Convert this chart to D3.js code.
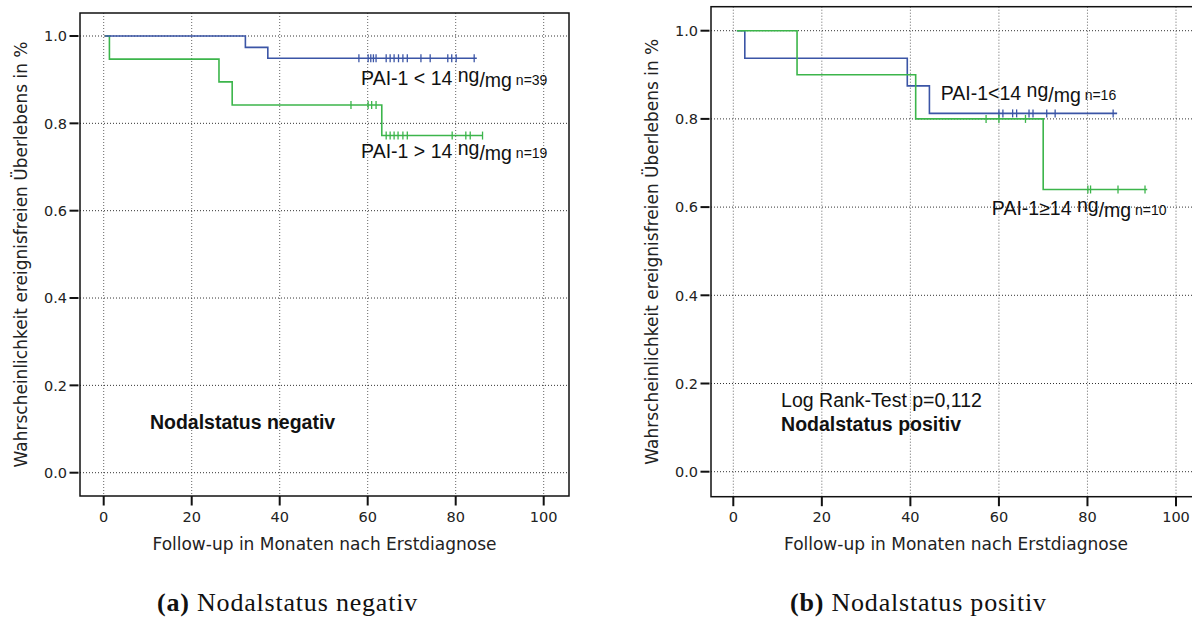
<!DOCTYPE html>
<html lang="de">
<head>
<meta charset="UTF-8">
<title>Kaplan-Meier PAI-1</title>
<script src="https://d3js.org/d3.v7.min.js"></script>
<style>
  body { margin: 0; background: #fff; }
  svg { display: block; }
  .tick-label { font-family: 'DejaVu Sans', sans-serif; font-size: 14.5px; fill: #222; }
  .axis-title { font-family: 'DejaVu Sans', sans-serif; font-size: 17px; fill: #222; }
  .note { font-family: 'Liberation Sans', Arial, sans-serif; font-size: 19.5px; fill: #111; }
  .note-bold { font-family: 'Liberation Sans', Arial, sans-serif; font-size: 19.5px; font-weight: bold; fill: #111; }
  .caption { font-family: 'Liberation Serif', serif; font-size: 26px; letter-spacing: 0.8px; fill: #111; }
</style>
</head>
<body>
<div id="chart"></div>
<script>
// ---- data ----
const xTicks = [0, 20, 40, 60, 80, 100];
const yTicks = [0.0, 0.2, 0.4, 0.6, 0.8, 1.0];

// (a) Nodalstatus negativ
const negLowTimes  = [0.3, 32.2, 37.3, 84.8];
const negLowSurv   = [1.0, 0.974, 0.949, 0.949];
const negLowCensor = [58.0, 60.1, 60.7, 61.3, 61.9, 64.2, 65.1, 66.0, 67.0, 68.0, 69.0, 72.1, 74.2, 78.2, 79.1, 80.1, 84.2];

const negHighTimes  = [0.3, 1.3, 26.2, 29.2, 63.2, 86.1];
const negHighSurv   = [1.0, 0.947, 0.895, 0.842, 0.772, 0.772];
const negHighCensor = [56.2, 60.1, 60.9, 61.9, 64.2, 65.1, 66.0, 66.9, 68.0, 69.0, 79.2, 82.3, 83.3, 86.1];

// (b) Nodalstatus positiv
const posLowTimes  = [0.8, 2.6, 39.3, 44.3, 86.7];
const posLowSurv   = [1.0, 0.9375, 0.875, 0.8125, 0.8125];
const posLowCensor = [60.0, 60.9, 63.1, 64.0, 66.8, 67.7, 70.8, 72.7, 85.8];

const posHighTimes  = [0.8, 14.4, 41.2, 70.0, 93.5];
const posHighSurv   = [1.0, 0.9, 0.8, 0.64, 0.64];
const posHighCensor = [57.1, 60.0, 66.0, 80.1, 80.7, 86.9, 93.0];

const yTitle = "Wahrscheinlichkeit ereignisfreien \u00DCberlebens in %";
const xTitle = "Follow-up in Monaten nach Erstdiagnose";

const blue = "#3b55a6";
const green = "#3cb54b";

const width = 1192, height = 637;

const svg = d3.select("#chart").append("svg")
    .attr("width", width)
    .attr("height", height);

const panels = [
    {
        box: { left: 80, right: 569, top: 13, bottom: 496 },
        xRange: [103.7, 543.7],
        yRange: [472.7, 36],
        yTitleX: 27,
        series: [
            { times: negHighTimes, surv: negHighSurv, censor: negHighCensor, color: green },
            { times: negLowTimes, surv: negLowSurv, censor: negLowCensor, color: blue }
        ],
        groupLabels: [
            { x: 58.5, y: 0.888, main: "PAI-1 < 14 ", n: "n=39" },
            { x: 58.5, y: 0.72, main: "PAI-1 > 14 ", n: "n=19" }
        ],
        notes: [
            { x: 10.5, y: 0.1, text: "Nodalstatus negativ", bold: true }
        ],
        caption: { x: 157, tag: "(a)", text: " Nodalstatus negativ" }
    },
    {
        box: { left: 711, right: 1201, top: 6.7, bottom: 496.7 },
        xRange: [733.3, 1176],
        yRange: [471.7, 30.7],
        yTitleX: 658,
        series: [
            { times: posLowTimes, surv: posLowSurv, censor: posLowCensor, color: blue },
            { times: posHighTimes, surv: posHighSurv, censor: posHighCensor, color: green }
        ],
        groupLabels: [
            { x: 46.85, y: 0.843, main: "PAI-1<14 ", n: "n=16" },
            { x: 58.4, y: 0.582, main: "PAI-1\u226514 ", n: "n=10" }
        ],
        notes: [
            { x: 10.8, y: 0.147, text: "Log Rank-Test p=0,112", bold: false },
            { x: 10.8, y: 0.0923, text: "Nodalstatus positiv", bold: true }
        ],
        caption: { x: 790, tag: "(b)", text: " Nodalstatus positiv" }
    }
];

panels.forEach(p => {
    const x = d3.scaleLinear().domain([0, 100]).range(p.xRange);
    const y = d3.scaleLinear().domain([0, 1]).range(p.yRange);
    const g = svg.append("g");
    const b = p.box;

    // dotted grid
    g.append("g").selectAll("line").data(xTicks).join("line")
        .attr("x1", d => x(d)).attr("x2", d => x(d))
        .attr("y1", b.top).attr("y2", b.bottom)
        .attr("stroke", "#666").attr("stroke-width", 1)
        .attr("stroke-dasharray", "1,2");
    g.append("g").selectAll("line").data(yTicks).join("line")
        .attr("x1", b.left).attr("x2", b.right)
        .attr("y1", d => y(d)).attr("y2", d => y(d))
        .attr("stroke", "#333").attr("stroke-width", 1)
        .attr("stroke-dasharray", "1,2");

    // survival curves
    const line = d3.line()
        .x(d => x(d[0]))
        .y(d => y(d[1]))
        .curve(d3.curveStepAfter);

    p.series.forEach(s => {
        const pts = s.times.map((t, i) => [t, s.surv[i]]);
        g.append("path")
            .datum(pts)
            .attr("d", line)
            .attr("fill", "none")
            .attr("stroke", s.color)
            .attr("stroke-width", 1.6);

        // survival value at censor time
        const survAt = t => {
            let v = s.surv[0];
            s.times.forEach((tt, i) => { if (tt <= t) v = s.surv[i]; });
            return v;
        };
        g.append("g").selectAll("line").data(s.censor).join("line")
            .attr("x1", d => x(d)).attr("x2", d => x(d))
            .attr("y1", d => y(survAt(d)) - 4)
            .attr("y2", d => y(survAt(d)) + 4)
            .attr("stroke", s.color)
            .attr("stroke-width", 1.3);
    });

    // box
    g.append("rect")
        .attr("x", b.left).attr("y", b.top)
        .attr("width", b.right - b.left).attr("height", b.bottom - b.top)
        .attr("fill", "none").attr("stroke", "#111").attr("stroke-width", 1.5);

    // ticks
    g.append("g").selectAll("line").data(xTicks).join("line")
        .attr("x1", d => x(d)).attr("x2", d => x(d))
        .attr("y1", b.bottom).attr("y2", b.bottom + 9.5)
        .attr("stroke", "#111").attr("stroke-width", 2);
    g.append("g").selectAll("text").data(xTicks).join("text")
        .attr("class", "tick-label")
        .attr("x", d => x(d)).attr("y", 522)
        .attr("text-anchor", "middle")
        .text(d => d);

    g.append("g").selectAll("line").data(yTicks).join("line")
        .attr("x1", b.left - 10.5).attr("x2", b.left - 1.5)
        .attr("y1", d => y(d)).attr("y2", d => y(d))
        .attr("stroke", "#111").attr("stroke-width", 2);
    g.append("g").selectAll("text").data(yTicks).join("text")
        .attr("class", "tick-label")
        .attr("x", b.left - 13).attr("y", d => y(d))
        .attr("dy", "0.36em")
        .attr("text-anchor", "end")
        .text(d => d.toFixed(1));

    // axis titles
    g.append("text")
        .attr("class", "axis-title")
        .attr("text-anchor", "middle")
        .attr("x", (b.left + b.right) / 2).attr("y", 550)
        .text(xTitle);
    g.append("text")
        .attr("class", "axis-title")
        .attr("text-anchor", "middle")
        .attr("transform", `translate(${p.yTitleX},${(b.top + b.bottom) / 2}) rotate(-90)`)
        .text(yTitle);

    // group labels: PAI-1 ... ng/mg n=..
    p.groupLabels.forEach(l => {
        const t = g.append("text")
            .attr("class", "note")
            .attr("x", x(l.x)).attr("y", y(l.y));
        t.append("tspan").text(l.main);
        t.append("tspan").attr("dy", -3).text("ng");
        t.append("tspan").attr("dy", 5).text("/mg");
        t.append("tspan").attr("dy", -2).attr("font-size", "14px").text(" " + l.n);
    });

    p.notes.forEach(n => {
        g.append("text")
            .attr("class", n.bold ? "note-bold" : "note")
            .attr("x", x(n.x)).attr("y", y(n.y))
            .text(n.text);
    });

    // caption
    const c = svg.append("text")
        .attr("class", "caption")
        .attr("x", p.caption.x).attr("y", 611);
    c.append("tspan").attr("font-weight", "bold").text(p.caption.tag);
    c.append("tspan").text(p.caption.text);
});
</script>
</body>
</html>
